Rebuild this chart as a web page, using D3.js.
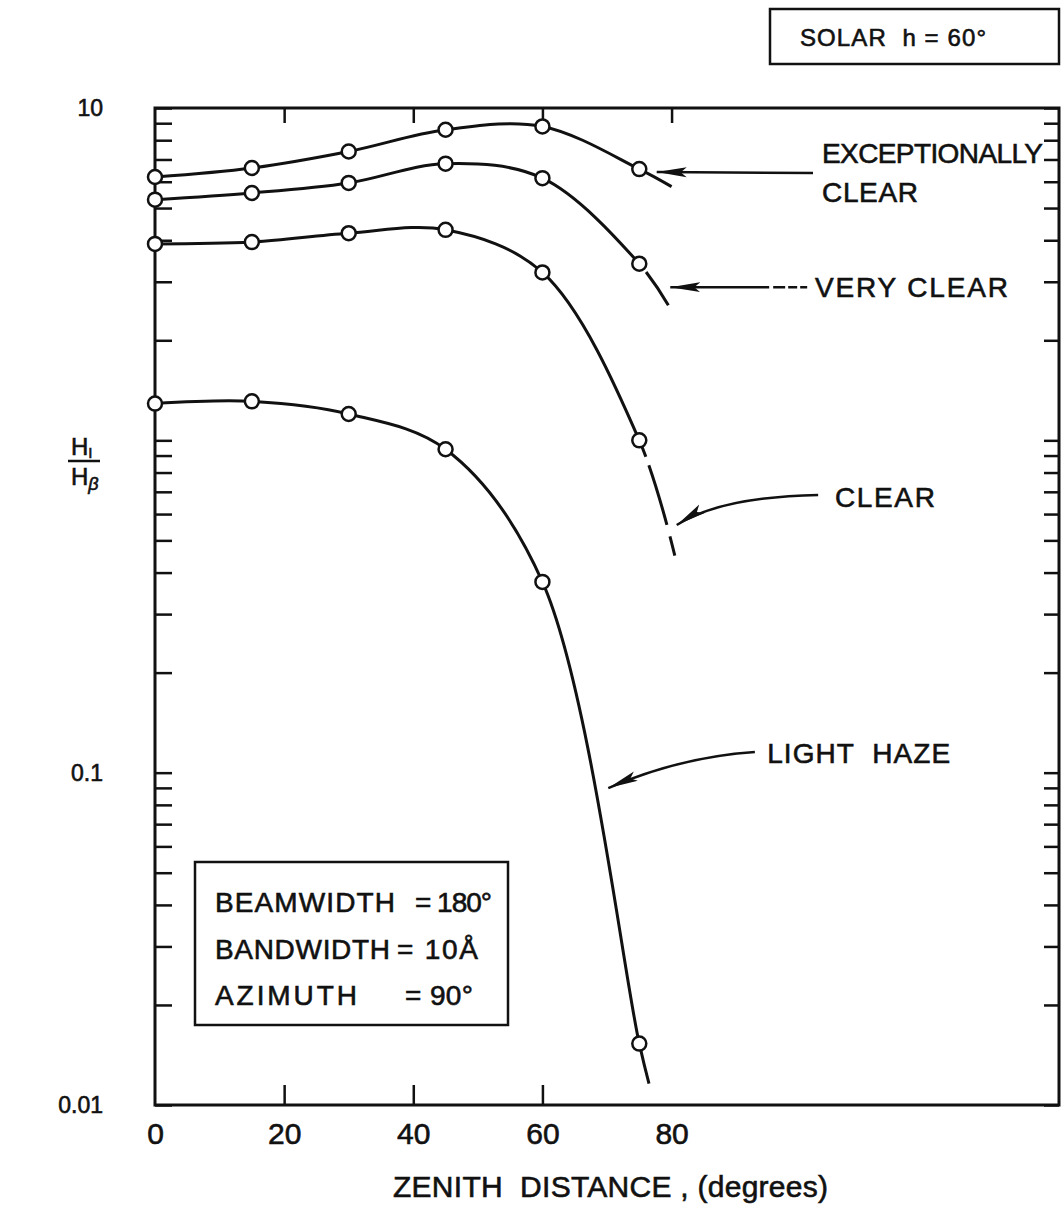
<!DOCTYPE html>
<html>
<head>
<meta charset="utf-8">
<script src="https://cdn.jsdelivr.net/npm/d3@7"></script>
<style>
  body { margin: 0; background: #fff; }
  svg text { font-family: "Liberation Sans", Arial, sans-serif; fill: #111; stroke: #111; stroke-width: 0.6px; }
</style>
</head>
<body>
<svg id="chart" width="1062" height="1207"></svg>
<script>
// values (H_I / H_beta against zenith distance)
const zenith = [0, 15, 30, 45, 60, 75];
const exceptionallyClear = [6.2, 6.6, 7.4, 8.6, 8.8, 6.55];
const veryClear = [5.3, 5.55, 5.95, 6.8, 6.15, 3.4];
const clear = [3.9, 3.95, 4.2, 4.3, 3.2, 1.0];
const lightHaze = [1.29, 1.31, 1.2, 0.94, 0.375, 0.0153];
// where each drawn curve stops, past its last plotted point
const tailZenith = [80, 79.5, 80.5, 76.5];
const tailValue = [5.8, 2.55, 0.45, 0.0116];

const xTicks = [0, 20, 40, 60, 80];
const yLabels = [10, 0.1, 0.01]; // the "1" did not survive in the print
const legendRows = [["BEAMWIDTH", "= 180°"], ["BANDWIDTH", "= 10Å"], ["AZIMUTH", "= 90°"]];

const margin = { top: 108, right: 3, bottom: 102, left: 155 };
const width = 1062 - margin.left - margin.right;
const height = 1207 - margin.top - margin.bottom;

const svg = d3.select("#chart");
const g = svg.append("g")
    .attr("transform", `translate(${margin.left},${margin.top})`);

const x = d3.scaleLinear().domain([0, 140]).range([0, width]);
const y = d3.scaleLog().domain([0.01, 10]).range([height, 0]);

// arrow head
svg.append("defs").append("marker")
    .attr("id", "head")
    .attr("markerUnits", "userSpaceOnUse")
    .attr("markerWidth", 34).attr("markerHeight", 14)
    .attr("refX", 30).attr("refY", 7)
    .attr("orient", "auto")
    .append("path")
    .attr("d", "M0,2 L30,7 L0,12 L6,7 Z")
    .attr("fill", "#111");

// frame
g.append("rect")
    .attr("width", width).attr("height", height)
    .attr("fill", "none").attr("stroke", "#111").attr("stroke-width", 3);

function tidy(sel) {
    sel.select(".domain").remove();
    sel.selectAll(".tick line").attr("stroke", "#111").attr("stroke-width", 2.5);
}

// inward ticks on all four sides
g.append("g").call(d3.axisLeft(y).tickValues(y.ticks()).tickSize(-17).tickFormat("")).call(tidy);
g.append("g").attr("transform", `translate(${width},0)`)
    .call(d3.axisRight(y).tickValues(y.ticks()).tickSize(-15).tickFormat("")).call(tidy);
g.append("g").call(d3.axisTop(x).tickValues([20, 40, 60, 80]).tickSize(-15).tickFormat("")).call(tidy);
g.append("g").attr("transform", `translate(0,${height})`)
    .call(d3.axisBottom(x).tickValues([20, 40, 60]).tickSize(-20).tickFormat("")).call(tidy);

// tick labels
g.append("g").attr("transform", `translate(0,${height})`)
    .call(d3.axisBottom(x).tickValues(xTicks).tickSize(0).tickPadding(18))
    .call(s => s.select(".domain").remove())
    .selectAll("text").attr("font-size", 30).attr("font-family", null).attr("fill", null);

g.append("g")
    .call(d3.axisLeft(y).tickValues(yLabels).tickSize(0).tickPadding(52).tickFormat(d => String(d)))
    .call(s => s.select(".domain").remove())
    .selectAll("text").attr("font-size", 23).attr("font-family", null).attr("fill", null);

// axis titles
svg.append("text")
    .attr("x", 393).attr("y", 1197)
    .attr("font-size", 30).attr("textLength", 435)
    .style("white-space", "pre")
    .text("ZENITH  DISTANCE , (degrees)");

const yTitle = svg.append("g");
yTitle.append("text").attr("x", 71).attr("y", 455).attr("font-size", 24)
    .text("H").append("tspan").attr("font-size", 15).attr("dy", 3).text("I");
yTitle.append("line").attr("x1", 68).attr("x2", 100).attr("y1", 461).attr("y2", 461)
    .attr("stroke", "#111").attr("stroke-width", 2.5);
yTitle.append("text").attr("x", 71).attr("y", 485).attr("font-size", 24)
    .text("H").append("tspan").attr("font-size", 18).attr("font-style", "italic").attr("dy", 5).text("β");

// curves
const series = [exceptionallyClear, veryClear, clear, lightHaze].map((vals, i) => ({
    pts: zenith.map((z, j) => [z, vals[j]]),
    tail: [tailZenith[i], tailValue[i]]
}));
// broken pen strokes past the last point of two curves
const tailDash = [null, [3, 8, 300], [18, 9, 62, 12, 300], null];

const line = d3.line()
    .x(d => x(d[0]))
    .y(d => y(d[1]))
    .curve(d3.curveCatmullRom.alpha(0.5));

series.forEach((s, i) => {
    const p = g.append("path")
        .attr("d", line([...s.pts, s.tail]))
        .attr("fill", "none").attr("stroke", "#111").attr("stroke-width", 3);
    if (tailDash[i]) {
        const tmp = g.append("path").attr("d", line(s.pts));
        const len = tmp.node().getTotalLength();
        tmp.remove();
        const d = tailDash[i].slice();
        d[0] += len;
        p.attr("stroke-dasharray", d.join(" "));
    }
    g.selectAll(null)
        .data(s.pts)
        .enter().append("circle")
        .attr("cx", d => x(d[0]))
        .attr("cy", d => y(d[1]))
        .attr("r", 7)
        .attr("fill", "#fff").attr("stroke", "#111").attr("stroke-width", 2.5);
});

// labels and pointer arrows, placed in data units
const arrows = [
    { from: [101.9, 6.37], to: [77.7, 6.42] },
    { from: [101.0, 2.89], to: [79.8, 2.89], dash: "7 3 9 3 12 4 400" },
    { from: [102.7, 0.685], via: [87.5, 0.675], to: [80.8, 0.556] },
    { from: [92.9, 0.1154], via: [81.3, 0.1115], to: [70.2, 0.0899] }
];
arrows.forEach(a => {
    const p = d3.path();
    p.moveTo(x(a.from[0]), y(a.from[1]));
    if (a.via) p.quadraticCurveTo(x(a.via[0]), y(a.via[1]), x(a.to[0]), y(a.to[1]));
    else p.lineTo(x(a.to[0]), y(a.to[1]));
    g.append("path")
        .attr("d", p.toString())
        .attr("fill", "none").attr("stroke", "#111").attr("stroke-width", 2.5)
        .attr("stroke-dasharray", a.dash || null)
        .attr("marker-end", "url(#head)");
});

const curveLabels = [
    { text: "EXCEPTIONALLY", z: 103.3, v: 6.83, len: 221 },
    { text: "CLEAR", z: 103.3, v: 5.21, len: 96 },
    { text: "VERY CLEAR", z: 102.2, v: 2.70, len: 193 },
    { text: "CLEAR", z: 105.3, v: 0.630, len: 100 },
    { text: "LIGHT  HAZE", z: 94.8, v: 0.107, len: 183 }
];
g.selectAll(null)
    .data(curveLabels)
    .enter().append("text")
    .attr("x", d => x(d.z))
    .attr("y", d => y(d.v))
    .attr("font-size", 28)
    .attr("textLength", d => d.len)
    .style("white-space", "pre")
    .text(d => d.text);

// parameter box
const legend = svg.append("g");
legend.append("rect")
    .attr("x", 195).attr("y", 862).attr("width", 313).attr("height", 163)
    .attr("fill", "#fff").attr("stroke", "#111").attr("stroke-width", 2.5);
const nameLen = [180, 175, 142];
const valX = [415, 397, 405];
const valLen = [77, 81, 68];
legendRows.forEach((r, i) => {
    const by = 912 + i * 46.5;
    legend.append("text").attr("x", 215).attr("y", by).attr("font-size", 28)
        .attr("textLength", nameLen[i]).text(r[0]);
    legend.append("text").attr("x", valX[i]).attr("y", by).attr("font-size", 28)
        .attr("textLength", valLen[i]).text(r[1]);
});

// sun elevation box
svg.append("rect")
    .attr("x", 770).attr("y", 9).attr("width", 289).attr("height", 55)
    .attr("fill", "#fff").attr("stroke", "#111").attr("stroke-width", 2.5);
svg.append("text")
    .attr("x", 800).attr("y", 46)
    .attr("font-size", 24).attr("textLength", 186)
    .style("white-space", "pre")
    .text("SOLAR  h = 60°");
</script>
</body>
</html>
